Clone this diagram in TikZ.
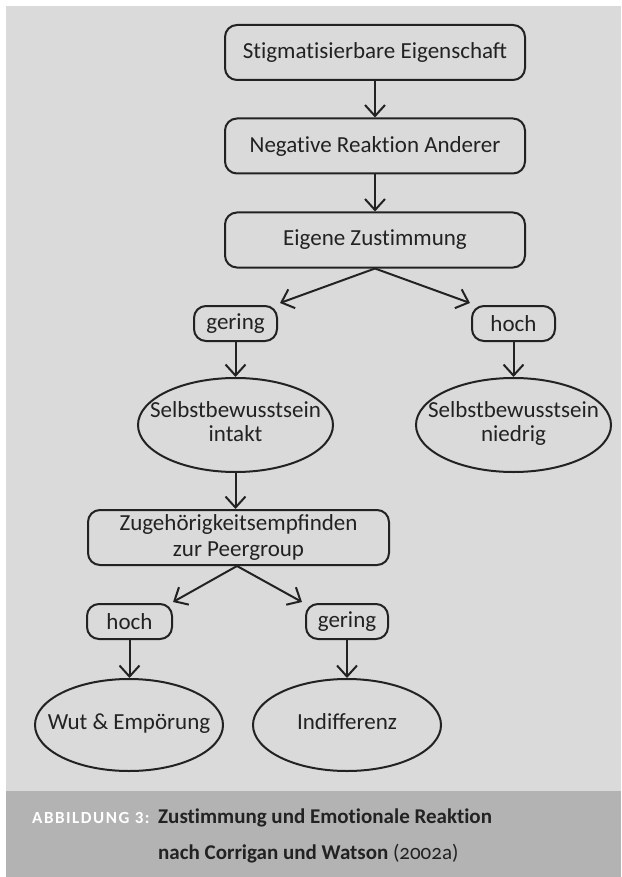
\documentclass[tikz,border=0pt]{standalone}
\usepackage{fontspec}
\setmainfont{Carlito}
\usetikzlibrary{arrows.meta,shapes.geometric}
\definecolor{bgl}{HTML}{DADADA}
\definecolor{bgd}{HTML}{B3B3B3}
\definecolor{ink}{HTML}{222222}
\newcommand{\nt}{t\kern0pt i}
\newcommand{\ztext}[1]{\makebox[0pt][c]{\begin{tabular}{@{}c@{}}#1\end{tabular}}}
\begin{document}
\begin{tikzpicture}[x=1pt,y=-1pt,
  every node/.style={font=\fontsize{23}{26}\selectfont, text=ink},
  rbox/.style={draw=ink, line width=2pt, rounded corners=12pt, minimum width=300pt, minimum height=55pt, align=center, inner sep=0pt},
  sbox/.style={draw=ink, line width=2pt, rounded corners=12pt, minimum width=83pt, minimum height=35pt, inner sep=0pt},
  ell/.style={draw=ink, line width=2pt, ellipse, minimum width=195pt, minimum height=94pt, inner sep=0pt},
  arr/.style={draw=ink, line width=2pt, -{Straight Barb[length=11pt,width=20pt,line width=2pt]}}
]
\renewcommand{\arraystretch}{0.92}
\useasboundingbox (0,0) rectangle (621,877);
\fill[white] (0,0) rectangle (621,877);
\fill[bgl] (6,6) rectangle (621,791);
\fill[bgd] (6,791) rectangle (621,877);

\node[rbox] (b1) at (375,52.5) {S\nt gma\nt sierbare Eigenschaft};
\node[rbox] (b2) at (375,146) {Nega\nt ve Reak\nt on Anderer};
\node[rbox] (b3) at (375,240) {Eigene Zus\nt mmung};
\node[sbox] (g1) at (235.5,323.5) {gering};
\node[sbox] (h1) at (513.5,323.5) {hoch};
\node[ell] (e1) at (235.5,425) {\ztext{Selbstbewusstsein\\intakt}};
\node[ell] (e2) at (513.5,425) {\ztext{Selbstbewusstsein\\niedrig}};
\node[rbox, minimum width=301pt] (b4) at (238.5,537.5) {Zugehörigkeitsempfinden\\zur Peergroup};
\node[sbox, minimum width=85pt] (h2) at (129.5,621.5) {hoch};
\node[sbox, minimum width=82pt] (g2) at (347,621.5) {gering};
\node[ell, minimum width=188pt, minimum height=92pt] (e3) at (129,725) {\ztext{Wut \& Empörung}};
\node[ell, minimum width=188pt, minimum height=92pt] (e4) at (347,725) {\ztext{Indifferenz}};

\coordinate (t1) at (280,303);
\coordinate (t2) at (470,303);
\coordinate (t3) at (173,602);
\coordinate (t4) at (302,602);

\draw[arr] (b1) -- (b2);
\draw[arr] (b2) -- (b3);
\draw[arr] (b3.south) -- (t1);
\draw[arr] (b3.south) -- (t2);
\draw[arr] (g1) -- (e1);
\draw[arr] (h1) -- (e2);
\draw[arr] (e1.south) -- (b4.north -| e1.south);
\draw[arr] (b4.south -| 237,0) -- (t3);
\draw[arr] (b4.south -| 237,0) -- (t4);
\draw[arr] (h2) -- (e3.north -| h2);
\draw[arr] (g2) -- (e4);

\node[anchor=base west, inner sep=0pt, text=white, font=\fontsize{17}{18}\selectfont\bfseries\addfontfeatures{LetterSpace=9}] (lab) at (32,823) {ABBILDUNG 3:};
\node[anchor=base west, font=\fontsize{21}{26}\selectfont\bfseries, inner sep=0pt] (c1) at (158,823) {Zus\nt mmung und Emo\nt onale Reak\nt on};
\node[anchor=base west, font=\fontsize{21}{26}\selectfont, inner sep=0pt] (c2) at (158,859) {\textbf{nach Corrigan und Watson} {\addfontfeatures{Numbers=OldStyle}(2002a)}};
\end{tikzpicture}
\end{document}
